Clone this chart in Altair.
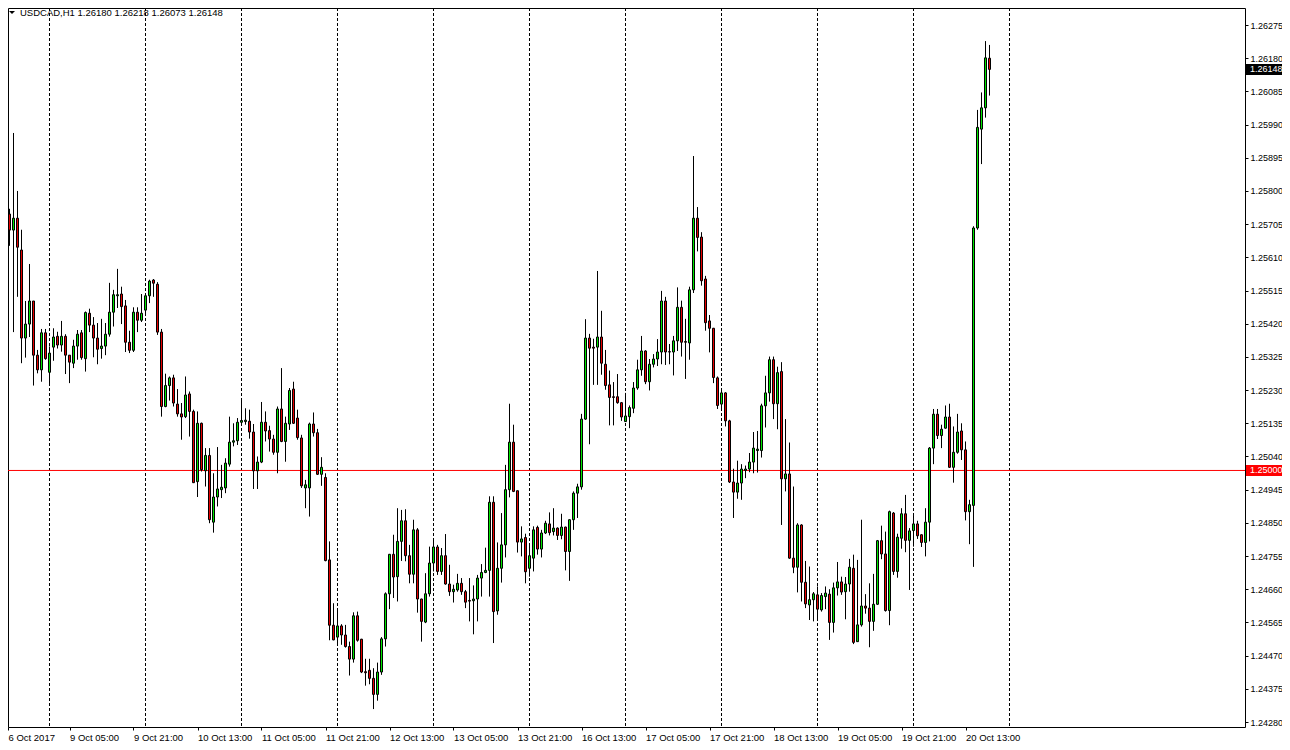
import altair as alt
import pandas as pd

# ---------------- data (USDCAD H1) ----------------
OPEN = [
    1.25870, 1.25734, 1.25688, 1.25722, 1.25631, 1.25379, 1.25419, 1.25485, 1.25330, 1.25288,
    1.25394, 1.25281, 1.25353, 1.25384, 1.25359, 1.25384, 1.25330, 1.25307, 1.25356, 1.25394,
    1.25320, 1.25450, 1.25416, 1.25379, 1.25349, 1.25356, 1.25390, 1.25453, 1.25500, 1.25505,
    1.25471, 1.25367, 1.25344, 1.25453, 1.25430, 1.25459, 1.25500, 1.25545, 1.25533, 1.25396,
    1.25183, 1.25243, 1.25265, 1.25190, 1.25162, 1.25154, 1.25219, 1.25169, 1.24968, 1.25135,
    1.24999, 1.25043, 1.24852, 1.24924, 1.24945, 1.24950, 1.25018, 1.25081, 1.25085, 1.25138,
    1.25140, 1.25141, 1.25110, 1.24999, 1.25024, 1.25138, 1.25114, 1.25090, 1.25052, 1.25176,
    1.25083, 1.25133, 1.25233, 1.25150, 1.25093, 1.24950, 1.24950, 1.25133, 1.25108, 1.24989,
    1.24980, 1.24744, 1.24557, 1.24523, 1.24555, 1.24529, 1.24496, 1.24460, 1.24584, 1.24517,
    1.24424, 1.24428, 1.24405, 1.24359, 1.24423, 1.24518, 1.24647, 1.24760, 1.24696, 1.24797,
    1.24856, 1.24756, 1.24703, 1.24830, 1.24632, 1.24566, 1.24647, 1.24735, 1.24781, 1.24711,
    1.24756, 1.24675, 1.24653, 1.24658, 1.24677, 1.24653, 1.24628, 1.24627, 1.24632, 1.24692,
    1.24708, 1.24714, 1.24909, 1.24598, 1.24720, 1.24787, 1.24945, 1.25081, 1.24942, 1.24795,
    1.24808, 1.24720, 1.24749, 1.24837, 1.24775, 1.24821, 1.24847, 1.24825, 1.24835, 1.24814,
    1.24838, 1.24768, 1.24859, 1.24935, 1.24953, 1.25147, 1.25379, 1.25353, 1.25353, 1.25382,
    1.25304, 1.25245, 1.25211, 1.25211, 1.25194, 1.25140, 1.25154, 1.25178, 1.25236, 1.25288,
    1.25342, 1.25254, 1.25304, 1.25319, 1.25339, 1.25485, 1.25340, 1.25339, 1.25371, 1.25467,
    1.25369, 1.25365, 1.25517, 1.25722, 1.25668, 1.25548, 1.25428, 1.25407, 1.25265, 1.25190,
    1.25222, 1.25142, 1.24967, 1.24938, 1.24964, 1.25000, 1.25004, 1.25024, 1.25057, 1.25057,
    1.25185, 1.25222, 1.25317, 1.25191, 1.25283, 1.24976, 1.24990, 1.24749, 1.24723, 1.24844,
    1.24680, 1.24615, 1.24630, 1.24644, 1.24601, 1.24639, 1.24646, 1.24565, 1.24664, 1.24681,
    1.24653, 1.24675, 1.24720, 1.24510, 1.24558, 1.24612, 1.24606, 1.24568, 1.24617, 1.24799,
    1.24761, 1.24599, 1.24878, 1.24711, 1.24806, 1.24876, 1.24800, 1.24828, 1.24847, 1.24816,
    1.24794, 1.24852, 1.25064, 1.25161, 1.25100, 1.25121, 1.25153, 1.25009, 1.25052, 1.25113,
    1.25059, 1.24882, 1.24900, 1.25694, 1.25977, 1.26038, 1.26180,
]
HIGH = [
    1.25889, 1.25749, 1.25966, 1.25800, 1.25689, 1.25485, 1.25591, 1.25485, 1.25345, 1.25405,
    1.25405, 1.25355, 1.25407, 1.25397, 1.25428, 1.25390, 1.25330, 1.25374, 1.25402, 1.25402,
    1.25455, 1.25463, 1.25439, 1.25422, 1.25434, 1.25422, 1.25537, 1.25517, 1.25577, 1.25526,
    1.25488, 1.25400, 1.25467, 1.25467, 1.25505, 1.25505, 1.25546, 1.25548, 1.25539, 1.25405,
    1.25277, 1.25269, 1.25274, 1.25233, 1.25193, 1.25269, 1.25226, 1.25174, 1.25169, 1.25137,
    1.25064, 1.25064, 1.24992, 1.25067, 1.25016, 1.25035, 1.25154, 1.25135, 1.25150, 1.25202,
    1.25178, 1.25174, 1.25133, 1.25040, 1.25196, 1.25169, 1.25128, 1.25102, 1.25183, 1.25293,
    1.25154, 1.25236, 1.25254, 1.25174, 1.25102, 1.24973, 1.25137, 1.25166, 1.25119, 1.25038,
    1.24992, 1.24797, 1.24620, 1.24603, 1.24560, 1.24558, 1.24510, 1.24594, 1.24596, 1.24518,
    1.24461, 1.24461, 1.24434, 1.24450, 1.24523, 1.24651, 1.24761, 1.24816, 1.24892, 1.24887,
    1.24889, 1.24787, 1.24859, 1.24835, 1.24633, 1.24706, 1.24782, 1.24804, 1.24787, 1.24778,
    1.24818, 1.24730, 1.24673, 1.24704, 1.24692, 1.24658, 1.24692, 1.24671, 1.24701, 1.24732,
    1.24779, 1.24926, 1.24926, 1.24794, 1.24878, 1.25016, 1.25191, 1.25131, 1.24942, 1.24840,
    1.24819, 1.24784, 1.24840, 1.24842, 1.24830, 1.24856, 1.24880, 1.24892, 1.24837, 1.24876,
    1.24839, 1.24860, 1.24940, 1.24962, 1.25162, 1.25433, 1.25391, 1.25377, 1.25571, 1.25457,
    1.25345, 1.25286, 1.25253, 1.25276, 1.25196, 1.25222, 1.25186, 1.25253, 1.25317, 1.25385,
    1.25344, 1.25319, 1.25333, 1.25376, 1.25514, 1.25497, 1.25362, 1.25385, 1.25524, 1.25486,
    1.25434, 1.25526, 1.25900, 1.25754, 1.25682, 1.25557, 1.25445, 1.25408, 1.25269, 1.25236,
    1.25224, 1.25145, 1.25005, 1.25028, 1.25018, 1.25014, 1.25050, 1.25110, 1.25113, 1.25191,
    1.25271, 1.25326, 1.25326, 1.25297, 1.25310, 1.25147, 1.25080, 1.24954, 1.24849, 1.24846,
    1.24741, 1.24725, 1.24652, 1.24668, 1.24649, 1.24668, 1.24660, 1.24679, 1.24738, 1.24696,
    1.24695, 1.24747, 1.24759, 1.24744, 1.24859, 1.24646, 1.24677, 1.24704, 1.24801, 1.24842,
    1.24825, 1.24885, 1.24881, 1.24819, 1.24892, 1.24930, 1.24835, 1.24876, 1.24856, 1.24817,
    1.24892, 1.25067, 1.25176, 1.25176, 1.25131, 1.25186, 1.25191, 1.25126, 1.25162, 1.25135,
    1.25083, 1.24916, 1.25699, 1.26032, 1.26082, 1.26229, 1.26218,
]
LOW = [
    1.25711, 1.25643, 1.25396, 1.25497, 1.25307, 1.25323, 1.25382, 1.25243, 1.25278, 1.25254,
    1.25317, 1.25247, 1.25314, 1.25349, 1.25340, 1.25276, 1.25250, 1.25293, 1.25317, 1.25317,
    1.25283, 1.25396, 1.25324, 1.25304, 1.25320, 1.25330, 1.25383, 1.25412, 1.25465, 1.25419,
    1.25339, 1.25336, 1.25339, 1.25396, 1.25425, 1.25450, 1.25479, 1.25497, 1.25388, 1.25154,
    1.25181, 1.25200, 1.25183, 1.25154, 1.25088, 1.25150, 1.25097, 1.24964, 1.24924, 1.24997,
    1.24954, 1.24849, 1.24822, 1.24897, 1.24921, 1.24935, 1.25011, 1.25069, 1.25073, 1.25131,
    1.25131, 1.25091, 1.24947, 1.24947, 1.25021, 1.25083, 1.25054, 1.25045, 1.24992, 1.25081,
    1.25025, 1.25116, 1.25133, 1.25088, 1.24950, 1.24892, 1.24868, 1.25097, 1.24987, 1.24956,
    1.24740, 1.24514, 1.24514, 1.24501, 1.24501, 1.24493, 1.24413, 1.24450, 1.24510, 1.24420,
    1.24384, 1.24388, 1.24317, 1.24341, 1.24415, 1.24496, 1.24603, 1.24635, 1.24625, 1.24741,
    1.24740, 1.24677, 1.24677, 1.24593, 1.24510, 1.24563, 1.24639, 1.24711, 1.24701, 1.24701,
    1.24673, 1.24641, 1.24622, 1.24653, 1.24644, 1.24606, 1.24568, 1.24531, 1.24568, 1.24639,
    1.24706, 1.24639, 1.24506, 1.24587, 1.24679, 1.24751, 1.24923, 1.24938, 1.24765, 1.24754,
    1.24677, 1.24696, 1.24711, 1.24759, 1.24751, 1.24818, 1.24814, 1.24814, 1.24801, 1.24803,
    1.24714, 1.24684, 1.24830, 1.24864, 1.24945, 1.25145, 1.25075, 1.25245, 1.25245, 1.25274,
    1.25231, 1.25129, 1.25129, 1.25191, 1.25142, 1.25139, 1.25121, 1.25164, 1.25231, 1.25271,
    1.25247, 1.25229, 1.25295, 1.25299, 1.25304, 1.25302, 1.25304, 1.25272, 1.25342, 1.25326,
    1.25262, 1.25317, 1.25508, 1.25627, 1.25529, 1.25400, 1.25338, 1.25250, 1.25176, 1.25174,
    1.25126, 1.24964, 1.24864, 1.24919, 1.24916, 1.24978, 1.24995, 1.24992, 1.24994, 1.25037,
    1.25123, 1.25197, 1.25147, 1.25118, 1.24844, 1.24940, 1.24747, 1.24706, 1.24651, 1.24625,
    1.24606, 1.24572, 1.24568, 1.24572, 1.24596, 1.24603, 1.24515, 1.24536, 1.24642, 1.24644,
    1.24574, 1.24653, 1.24503, 1.24509, 1.24553, 1.24590, 1.24494, 1.24541, 1.24615, 1.24746,
    1.24596, 1.24557, 1.24701, 1.24693, 1.24776, 1.24766, 1.24658, 1.24782, 1.24804, 1.24781,
    1.24754, 1.24797, 1.25018, 1.25090, 1.25064, 1.25120, 1.25007, 1.24965, 1.25048, 1.25030,
    1.24857, 1.24789, 1.24724, 1.25689, 1.25877, 1.26010, 1.26073,
]
CLOSE = [
    1.25734, 1.25688, 1.25722, 1.25639, 1.25379, 1.25419, 1.25485, 1.25330, 1.25288, 1.25394,
    1.25320, 1.25336, 1.25382, 1.25359, 1.25384, 1.25330, 1.25310, 1.25356, 1.25390, 1.25323,
    1.25452, 1.25416, 1.25379, 1.25347, 1.25356, 1.25390, 1.25453, 1.25503, 1.25503, 1.25469,
    1.25367, 1.25344, 1.25453, 1.25430, 1.25450, 1.25500, 1.25542, 1.25536, 1.25396, 1.25183,
    1.25243, 1.25265, 1.25193, 1.25162, 1.25153, 1.25216, 1.25169, 1.24965, 1.25135, 1.25002,
    1.25043, 1.24859, 1.24924, 1.24947, 1.24952, 1.25021, 1.25081, 1.25085, 1.25138, 1.25143,
    1.25144, 1.25110, 1.24999, 1.25024, 1.25138, 1.25113, 1.25090, 1.25052, 1.25176, 1.25083,
    1.25135, 1.25229, 1.25135, 1.25094, 1.24956, 1.24959, 1.25133, 1.25108, 1.24989, 1.25009,
    1.24742, 1.24557, 1.24515, 1.24555, 1.24529, 1.24496, 1.24460, 1.24584, 1.24514, 1.24423,
    1.24421, 1.24405, 1.24359, 1.24423, 1.24518, 1.24647, 1.24760, 1.24695, 1.24797, 1.24856,
    1.24756, 1.24703, 1.24830, 1.24632, 1.24568, 1.24647, 1.24735, 1.24781, 1.24711, 1.24756,
    1.24675, 1.24653, 1.24660, 1.24677, 1.24653, 1.24623, 1.24626, 1.24632, 1.24692, 1.24708,
    1.24714, 1.24909, 1.24596, 1.24720, 1.24787, 1.24945, 1.25081, 1.24940, 1.24795, 1.24804,
    1.24710, 1.24756, 1.24830, 1.24775, 1.24821, 1.24849, 1.24822, 1.24835, 1.24814, 1.24838,
    1.24768, 1.24859, 1.24935, 1.24953, 1.25147, 1.25379, 1.25350, 1.25350, 1.25382, 1.25307,
    1.25243, 1.25209, 1.25209, 1.25194, 1.25153, 1.25156, 1.25180, 1.25236, 1.25288, 1.25342,
    1.25254, 1.25304, 1.25319, 1.25339, 1.25485, 1.25339, 1.25339, 1.25371, 1.25467, 1.25367,
    1.25367, 1.25517, 1.25722, 1.25667, 1.25543, 1.25423, 1.25407, 1.25266, 1.25186, 1.25222,
    1.25142, 1.24967, 1.24938, 1.24964, 1.25004, 1.25004, 1.25024, 1.25064, 1.25061, 1.25185,
    1.25222, 1.25317, 1.25191, 1.25280, 1.24976, 1.24990, 1.24749, 1.24723, 1.24844, 1.24680,
    1.24618, 1.24630, 1.24647, 1.24603, 1.24642, 1.24649, 1.24565, 1.24664, 1.24681, 1.24652,
    1.24675, 1.24723, 1.24508, 1.24558, 1.24612, 1.24606, 1.24568, 1.24617, 1.24799, 1.24761,
    1.24599, 1.24882, 1.24711, 1.24809, 1.24876, 1.24800, 1.24827, 1.24847, 1.24813, 1.24794,
    1.24852, 1.25064, 1.25161, 1.25100, 1.25118, 1.25153, 1.25009, 1.25052, 1.25110, 1.25059,
    1.24882, 1.24902, 1.25694, 1.25982, 1.26038, 1.26181, 1.26148,
]

# time-axis labels (bar index -> text) and day separators (bar index)
XLABEL_POS = [1.625, 17, 33, 49, 65, 81, 97, 113, 129, 145, 161, 177, 193, 209, 225, 241]
XLABEL_TXT = ["6 Oct 2017", "9 Oct 05:00", "9 Oct 21:00", "10 Oct 13:00", "11 Oct 05:00",
              "11 Oct 21:00", "12 Oct 13:00", "13 Oct 05:00", "13 Oct 21:00", "16 Oct 13:00",
              "17 Oct 05:00", "17 Oct 21:00", "18 Oct 13:00", "19 Oct 05:00", "19 Oct 21:00",
              "20 Oct 13:00"]
DAY_STARTS = [12, 36, 60, 84, 108, 132, 156, 180, 204, 228, 252]

# price-axis ticks
YTICKS = [1.24280, 1.24375, 1.24470, 1.24565, 1.24660, 1.24755, 1.24850, 1.24945,
          1.25040, 1.25135, 1.25230, 1.25325, 1.25420, 1.25515, 1.25610, 1.25705,
          1.25800, 1.25895, 1.25990, 1.26085, 1.26180, 1.26275]
LEVEL = [1.25000]
SYMBOL = "USDCAD,H1"

# ---------------- styling ----------------
FONT = "Liberation Sans"
FS = 9.5
FS_PRICE = 9
GREEN = "#00e600"
RED = "#e60000"
LINE_RED = "#ff0000"

W, H = 1237, 719
X_DOMAIN = [1.625, 1.625 + W / 4.0]
Y_DOMAIN = [1.242657, 1.263237]

df = pd.DataFrame({"i": list(range(1, len(OPEN) + 1)), "open": OPEN, "high": HIGH,
                   "low": LOW, "close": CLOSE})
df["dir"] = ["up" if c >= o else "down" for o, c in zip(OPEN, CLOSE)]
df["hi"] = df[["high", "open", "close"]].max(axis=1)
df["lo"] = df[["low", "open", "close"]].min(axis=1)

xs = alt.Scale(domain=X_DOMAIN, nice=False, zero=False, padding=0)
ys = alt.Scale(domain=Y_DOMAIN, nice=False, zero=False, padding=0)

label_expr = ("[" + ",".join("'%s'" % s for s in XLABEL_TXT) + "][indexof(["
              + ",".join(str(v) for v in XLABEL_POS) + "], datum.value)]")

x_axis = alt.Axis(orient="bottom", values=XLABEL_POS, labelExpr=label_expr, title=None,
                  grid=False, domain=False, ticks=True, tickSize=3, tickColor="black",
                  labelAlign="left", labelBaseline="top", labelPadding=2, labelFont=FONT,
                  labelFontSize=FS, labelColor="black", labelFlush=False,
                  labelOverlap=False, labelBound=False)
y_axis = alt.Axis(orient="right", values=YTICKS, format=".5f", title=None, grid=False,
                  domain=False, ticks=True, tickSize=3, tickColor="black",
                  labelAlign="left", labelBaseline="middle", labelPadding=2,
                  labelFont=FONT, labelFontSize=FS_PRICE, labelColor="black",
                  labelFlush=False, labelOverlap=False, labelBound=False)


def X(field):
    return alt.X(field, scale=xs, axis=x_axis)


def Y(field):
    return alt.Y(field, scale=ys, axis=y_axis)


grid = alt.Chart(pd.DataFrame({"i": DAY_STARTS})).mark_rule(
    color="black", strokeWidth=1, strokeDash=[3, 2]
).encode(x=X("i:Q"))

level = alt.Chart(pd.DataFrame({"p": LEVEL})).mark_rule(
    color=LINE_RED, strokeWidth=1
).encode(y=Y("p:Q"))

wicks = alt.Chart(df).mark_rule(color="black", strokeWidth=1).encode(
    x=X("i:Q"), y=Y("lo:Q"), y2="hi:Q",
)

bodies = alt.Chart(df).mark_bar(size=2, stroke="black", strokeWidth=1).encode(
    x=X("i:Q"), y=Y("open:Q"), y2="close:Q",
    color=alt.Color("dir:N", scale=alt.Scale(domain=["up", "down"], range=[GREEN, RED]),
                    legend=None),
)

tag_df_close = pd.DataFrame({"p": [CLOSE[-1]], "t": ["%.5f" % CLOSE[-1]]})
tag_df_level = pd.DataFrame({"p": LEVEL, "t": ["%.5f" % v for v in LEVEL]})

tag_close = alt.Chart(tag_df_close).mark_tick(
    orient="horizontal", thickness=11, size=36, color="black", opacity=1
).encode(x=alt.value(1256), y=Y("p:Q"))
tag_level = alt.Chart(tag_df_level).mark_tick(
    orient="horizontal", thickness=11, size=36, color=LINE_RED, opacity=1
).encode(x=alt.value(1256), y=Y("p:Q"))
tag_text = alt.Chart(pd.concat([tag_df_close, tag_df_level])).mark_text(
    align="left", baseline="middle", font=FONT, fontSize=FS_PRICE, color="white"
).encode(x=alt.value(1242), y=Y("p:Q"), text="t:N")

header_df = pd.DataFrame({"t": ["%s  %.5f %.5f %.5f %.5f" % (SYMBOL, OPEN[-1], HIGH[-1],
                                                            LOW[-1], CLOSE[-1])]})
tri = alt.Chart(header_df).mark_point(
    shape="M-1,-0.5L1,-0.5L0,0.5Z", size=36, filled=True, color="black", opacity=1
).encode(x=alt.value(4), y=alt.value(4.5))
head = alt.Chart(header_df).mark_text(
    align="left", baseline="middle", font=FONT, fontSize=FS, color="black"
).encode(x=alt.value(12), y=alt.value(4.5), text="t:N")

chart = alt.layer(
    grid, level, wicks, bodies, tag_close, tag_level, tag_text, tri, head
).properties(
    width=W, height=H,
    padding={"left": 0, "top": 0, "right": 37, "bottom": 16},
    autosize=alt.AutoSizeParams(type="none"),
    background="white",
).configure_view(stroke="black", strokeWidth=1)

chart.save("out.html", embed_options={"renderer": "svg", "actions": False})
